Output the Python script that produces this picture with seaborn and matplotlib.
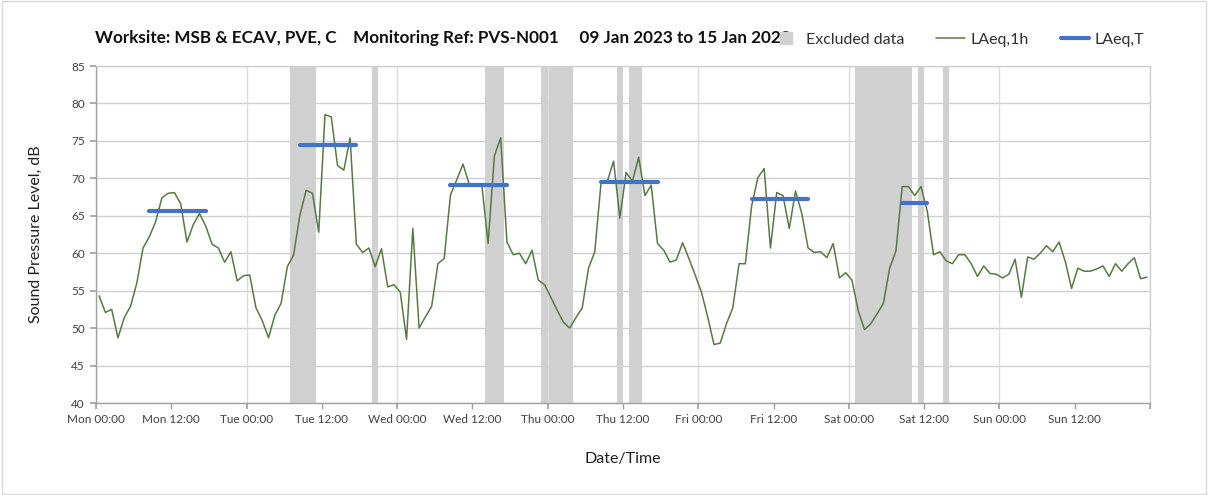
import numpy as np
import pandas as pd
import matplotlib
matplotlib.use("Agg")
import matplotlib.pyplot as plt
import seaborn as sns
from matplotlib.lines import Line2D
from matplotlib.patches import Rectangle

# ---------------- data (hourly LAeq,1h, dB) ----------------
mon = [54.3, 52.1, 52.5, 48.7, 51.4, 52.9, 56.0, 60.7, 62.2, 64.2, 67.4, 68.0,
       68.1, 66.6, 61.5, 63.8, 65.3, 63.6, 61.2, 60.7, 58.8, 60.2, 56.3, 57.0]
tue = [57.1, 52.7, 51.0, 48.7, 51.7, 53.3, 58.2, 59.8, 65.1, 68.4, 68.0, 62.8,
       78.5, 78.2, 71.7, 71.1, 75.4, 61.2, 60.1, 60.7, 58.2, 60.6, 55.5, 55.8]
wed = [54.8, 48.5, 63.3, 50.0, 51.5, 52.9, 58.6, 59.3, 67.8, 69.8, 71.9, 69.2,
       69.1, 69.1, 61.3, 73.0, 75.4, 61.5, 59.8, 60.0, 58.6, 60.4, 56.4, 55.8]
thu = [54.1, 52.4, 50.8, 50.0, 51.4, 52.7, 58.0, 60.2, 69.4, 69.6, 72.3, 64.7,
       70.8, 69.6, 72.8, 67.7, 69.1, 61.3, 60.4, 58.8, 59.1, 61.4, 59.3, 57.1]
fri = [54.8, 51.5, 47.8, 48.0, 50.6, 52.7, 58.6, 58.6, 66.3, 70.1, 71.3, 60.7,
       68.1, 67.7, 63.3, 68.3, 65.3, 60.7, 60.1, 60.2, 59.4, 61.3, 56.7, 57.4]
sat = [56.4, 52.3, 49.8, 50.6, 51.9, 53.3, 58.0, 60.3, 68.9, 68.9, 67.7, 68.9,
       65.6, 59.8, 60.2, 59.0, 58.6, 59.8, 59.8, 58.6, 56.9, 58.3, 57.3, 57.2]
sun = [56.7, 57.2, 59.2, 54.1, 59.5, 59.2, 60.0, 61.0, 60.2, 61.5, 58.9, 55.3,
       58.0, 57.6, 57.6, 57.9, 58.3, 56.9, 58.6, 57.6, 58.6, 59.4, 56.6, 56.8]

# LAeq,T periods (hours from Mon 00:00) and levels
t_start = [8, 32, 56, 80, 104, 128]
t_end = [17, 41, 65, 89, 113, 132]
t_level = [65.7, 74.5, 69.1, 69.5, 67.3, 66.7]

# Excluded data periods (hours from Mon 00:00)
excl_start = [31, 44, 62, 71, 83, 85, 121, 131, 135]
excl_end = [35, 45, 65, 76, 84, 87, 130, 132, 136]

days = ["Mon", "Tue", "Wed", "Thu", "Fri", "Sat", "Sun"]
title = "Worksite: MSB & ECAV, PVE, C    Monitoring Ref: PVS-N001     09 Jan 2023 to 15 Jan 2023"

# ---------------- build frames ----------------
levels = mon + tue + wed + thu + fri + sat + sun
df = pd.DataFrame({"hour": np.arange(len(levels)) + 0.5, "level": levels})
rows = []
for i, (s, e, v) in enumerate(zip(t_start, t_end, t_level)):
    rows.append({"period": i, "hour": s + 0.5, "level": v})
    rows.append({"period": i, "hour": e + 0.5, "level": v})
dft = pd.DataFrame(rows)

# ---------------- plot ----------------
sns.set_theme(style="white")
plt.rcParams['font.family'] = ['Lato', 'DejaVu Sans']

GREEN = "#577a44"
BLUE = "#4472c4"
BAND = "#d0d0d0"
TXT = "#404040"

fig = plt.figure(figsize=(12.08, 4.95), dpi=100)
ax = fig.add_axes([96 / 1208, 1 - 403 / 495, (1150 - 96) / 1208, (403 - 66) / 495])

for s, e in zip(excl_start, excl_end):
    ax.axvspan(s, e, color=BAND, lw=0, zorder=0.5)

sns.lineplot(data=df, x="hour", y="level", color=GREEN, lw=1.1,
             estimator=None, ax=ax, zorder=3)
sns.lineplot(data=dft, x="hour", y="level", units="period", estimator=None,
             color=BLUE, lw=3, ax=ax, zorder=4, solid_capstyle="round")

ax.set_xlim(0, 168)
ax.set_ylim(40, 85)
ax.set_yticks(np.arange(40, 86, 5))

ax.set_xticks(np.arange(0, 169, 24))
ax.set_xticklabels([f"{d} 00:00" for d in days] + [""])
ax.set_xticks(np.arange(12, 168, 24), minor=True)
ax.set_xticklabels([f"{d} 12:00" for d in days], minor=True)

ax.grid(axis="y", color="#d0d0d0", lw=1)
ax.grid(axis="x", which="major", color="#dcdcdc", lw=1)
ax.set_axisbelow(True)

for sp in ["left", "bottom"]:
    ax.spines[sp].set_color("#a0a0a0")
    ax.spines[sp].set_linewidth(1)
for sp in ["top", "right"]:
    ax.spines[sp].set_color("#d0d0d0")
    ax.spines[sp].set_linewidth(1)

ax.tick_params(axis="both", which="both", direction="out", length=4,
               color="#a0a0a0", labelsize=8.5, labelcolor=TXT, pad=4,
               bottom=True, left=True)

ax.set_xlabel("Date/Time", fontsize=11.5, color="#202020")
ax.set_ylabel("Sound Pressure Level, dB", fontsize=11.5, color="#202020")
ax.xaxis.set_label_coords(0.5, -0.145)
ax.yaxis.set_label_coords(-0.05, 0.5)

fig.text(95 / 1208, 1 - 38 / 495, title, fontsize=12.3, fontweight="bold",
         color="#101010", ha="left", va="center")

handles = [
    Line2D([], [], marker="s", ls="", color=BAND, markersize=9),
    Line2D([], [], color=GREEN, lw=1.1),
    Line2D([], [], color=BLUE, lw=3),
]
fig.legend(handles, ["Excluded data", "LAeq,1h", "LAeq,T"], loc="center left",
           bbox_to_anchor=(757 / 1208, 1 - 40 / 495), ncol=3, frameon=False,
           fontsize=11.5, handlelength=1.8, handletextpad=0.35, columnspacing=2.0,
           labelcolor="#303030")

fig.patches.append(Rectangle((0.002, 0.003), 0.996, 0.994, transform=fig.transFigure,
                             fill=False, edgecolor="#d9d9d9", lw=1))

fig.savefig("out.png", dpi=100)
